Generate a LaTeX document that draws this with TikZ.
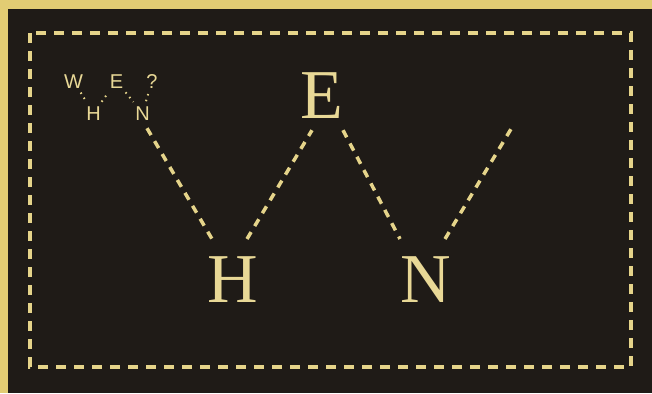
\documentclass[tikz,border=0pt]{standalone}
\usepackage{fontspec}
\usetikzlibrary{calc}
\newfontfamily\bigserif{Liberation Serif}
\newfontfamily\smallsans{Liberation Sans}
\definecolor{bgyellow}{HTML}{E2CC73}
\definecolor{board}{HTML}{1F1B17}
\definecolor{chalk}{HTML}{E5D48A}
\definecolor{letter}{HTML}{E8D896}
\tikzset{
  bigletter/.style={inner sep=0pt, anchor=base, text=letter, font=\bigserif\fontsize{70bp}{70bp}\selectfont},
  smallletter/.style={inner sep=1bp, anchor=base, text=letter, font=\smallsans\fontsize{20bp}{20bp}\selectfont},
  dashline/.style={draw=chalk, line width=3.5bp, dash pattern=on 8bp off 7bp},
  dotline/.style={draw=chalk, line width=2bp, dash pattern=on 1.5bp off 4.5bp, shorten <=4bp, shorten >=4bp},
  framebox/.style={draw=chalk, line width=3.2bp, dash pattern=on 10bp off 8bp},
}
\begin{document}
\begin{tikzpicture}[x=1bp,y=-1bp]
\useasboundingbox (0,0) rectangle (652,393);
\fill[bgyellow] (0,0) rectangle (652,393);
\fill[board] (8,9) rectangle (652,393);
\draw[framebox] (30,33) rectangle (631,367);
% small letters
\node[smallletter] (sW) at (73.5,88) {W};
\node[smallletter] (sE) at (116.5,88) {E};
\node[smallletter] (sQ) at (152,88) {?};
\node[smallletter] (sH) at (93.5,120) {H};
\node[smallletter] (sN) at (142.5,120) {N};
\draw[dotline] (sW) -- (sH);
\draw[dotline] (sH) -- (sE);
\draw[dotline] (sE) -- (sN);
\draw[dotline] (sN) -- (sQ);
% big letters
\node[bigletter] (E) at (322,118) {E};
\node[bigletter] (H) at (233,302) {H};
\node[bigletter] (N) at (426,302) {N};
\coordinate (end) at (511,129);
\draw[dashline] ($(sN.south)+(4.5,7)$) -- ($(H.north)+(-21,-17)$);
\draw[dashline] ($(H.north)+(14,-17)$) -- ($(E.south)+(-10,12)$);
\draw[dashline] ($(E.south)+(21,12)$) -- ($(N.north)+(-26,-17)$);
\draw[dashline] ($(N.north)+(19,-17)$) -- (end);
\end{tikzpicture}
\end{document}
